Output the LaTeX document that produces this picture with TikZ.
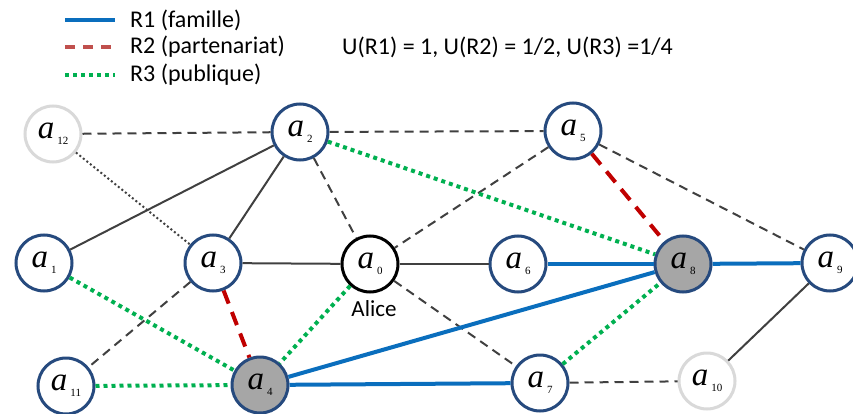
\documentclass[tikz,border=0pt]{standalone}
\usepackage{fontspec}
\setmainfont{Carlito}
\newfontfamily\lblfont{Liberation Serif}
\usetikzlibrary{positioning}
\definecolor{famblue}{HTML}{0A6EBD}
\definecolor{parred}{HTML}{C00000}
\definecolor{legred}{HTML}{C0504D}
\definecolor{pubgreen}{HTML}{00B050}
\definecolor{nodeblue}{HTML}{264A7E}
\definecolor{edgegray}{HTML}{404040}
\definecolor{ghost}{HTML}{D9D9D9}
\newcommand{\agent}[1]{{\lblfont\fontsize{33}{33}\selectfont\itshape a}\hspace{3pt}\raisebox{-6pt}{\lblfont\fontsize{11}{11}\selectfont #1}}
\tikzset{
  agentnode/.style={draw=nodeblue, circle, line width=3pt, fill=white, minimum size=56pt, inner sep=0pt},
  legtext/.style={anchor=west, inner sep=0pt, font=\fontsize{24}{24}\selectfont},
  famille/.style={famblue, line width=4pt},
  partenariat/.style={parred, line width=4pt, dash pattern=on 14pt off 9pt},
  publique/.style={pubgreen, line width=4pt, dash pattern=on 4pt off 4pt},
  plain/.style={edgegray, line width=2pt},
  weak/.style={edgegray, line width=2pt, dash pattern=on 9pt off 6pt}
}
\begin{document}
\begin{tikzpicture}[x=1pt, y=-1pt]
\useasboundingbox (0,0) rectangle (853,414);
% legend
\coordinate (l1a) at (65,20);  \coordinate (l1b) at (115,20);
\coordinate (l2a) at (65,47);  \coordinate (l2b) at (115,47);
\coordinate (l3a) at (65,75);  \coordinate (l3b) at (115,75);
\draw[famille] (l1a) -- (l1b);
\draw[legred, line width=4pt, dash pattern=on 10pt off 8pt] (l2a) -- (l2b);
\draw[publique] (l3a) -- (l3b);
\node[legtext] (t1) at (130,20) {R1 (famille)};
\node[legtext] (t2) at (130,47) {R2 (partenariat)};
\node[legtext] (t3) at (130,75) {R3 (publique)};
\node[legtext] (util) at (342,47) {U(R1) = 1, U(R2) = 1/2, U(R3) =1/4};

% agents
\node[agentnode, draw=ghost] (a12) at (53,134) {\agent{12}};
\node[agentnode] (a2) at (300,132) {\agent{2}};
\node[agentnode] (a5) at (573,131) {\agent{5}};
\node[agentnode] (a1) at (44,263) {\agent{1}};
\node[agentnode] (a3) at (213,263) {\agent{3}};
\node[agentnode, draw=black] (a0) at (370,264) {\agent{0}};
\node[anchor=base, inner sep=0pt, font=\fontsize{23}{23}\selectfont] (alice) at (374,316) {Alice};
\node[agentnode] (a6) at (518,264) {\agent{6}};
\node[agentnode, fill=gray!70] (a8) at (683,264) {\agent{8}};
\node[agentnode] (a9) at (830,263) {\agent{9}};
\node[agentnode] (a11) at (66,386) {\agent{11}};
\node[agentnode, fill=gray!70] (a4) at (260,385) {\agent{4}};
\node[agentnode] (a7) at (540,383) {\agent{7}};
\node[agentnode, draw=ghost] (a10) at (707,381) {\agent{10}};

% links
\draw[weak] (a12) -- (a2);
\draw[weak] (a2) -- (a5);
\draw[edgegray, line width=2pt, dash pattern=on 2pt off 2.5pt] (a12) -- (a3);
\draw[plain] (a1) -- (a2);
\draw[plain] (a3) -- (a2);
\draw[weak] (a2) -- (a0);
\draw[weak] (a5) -- (a0);
\draw[weak] (a5) -- (a9);
\draw[plain] (a3) -- (a0);
\draw[plain] (a0) -- (a6);
\draw[weak] (a3) -- (a11);
\draw[weak] (a0) -- (a7);
\draw[weak] (a7) -- (a10);
\draw[plain] (a10) -- (a9);
\draw[famille] (a6) -- (a8);
\draw[famille] (a8) -- (a9);
\draw[famille] (a4) -- (a8);
\draw[famille] (a4) -- (a7);
\draw[partenariat] (a5) -- (a8);
\draw[partenariat] (a3) -- (a4);
\draw[publique] (a2) -- (a8);
\draw[publique] (a1) -- (a4);
\draw[publique] (a0) -- (a4);
\draw[publique] (a11) -- (a4);
\draw[publique] (a7) -- (a8);
\end{tikzpicture}
\end{document}
